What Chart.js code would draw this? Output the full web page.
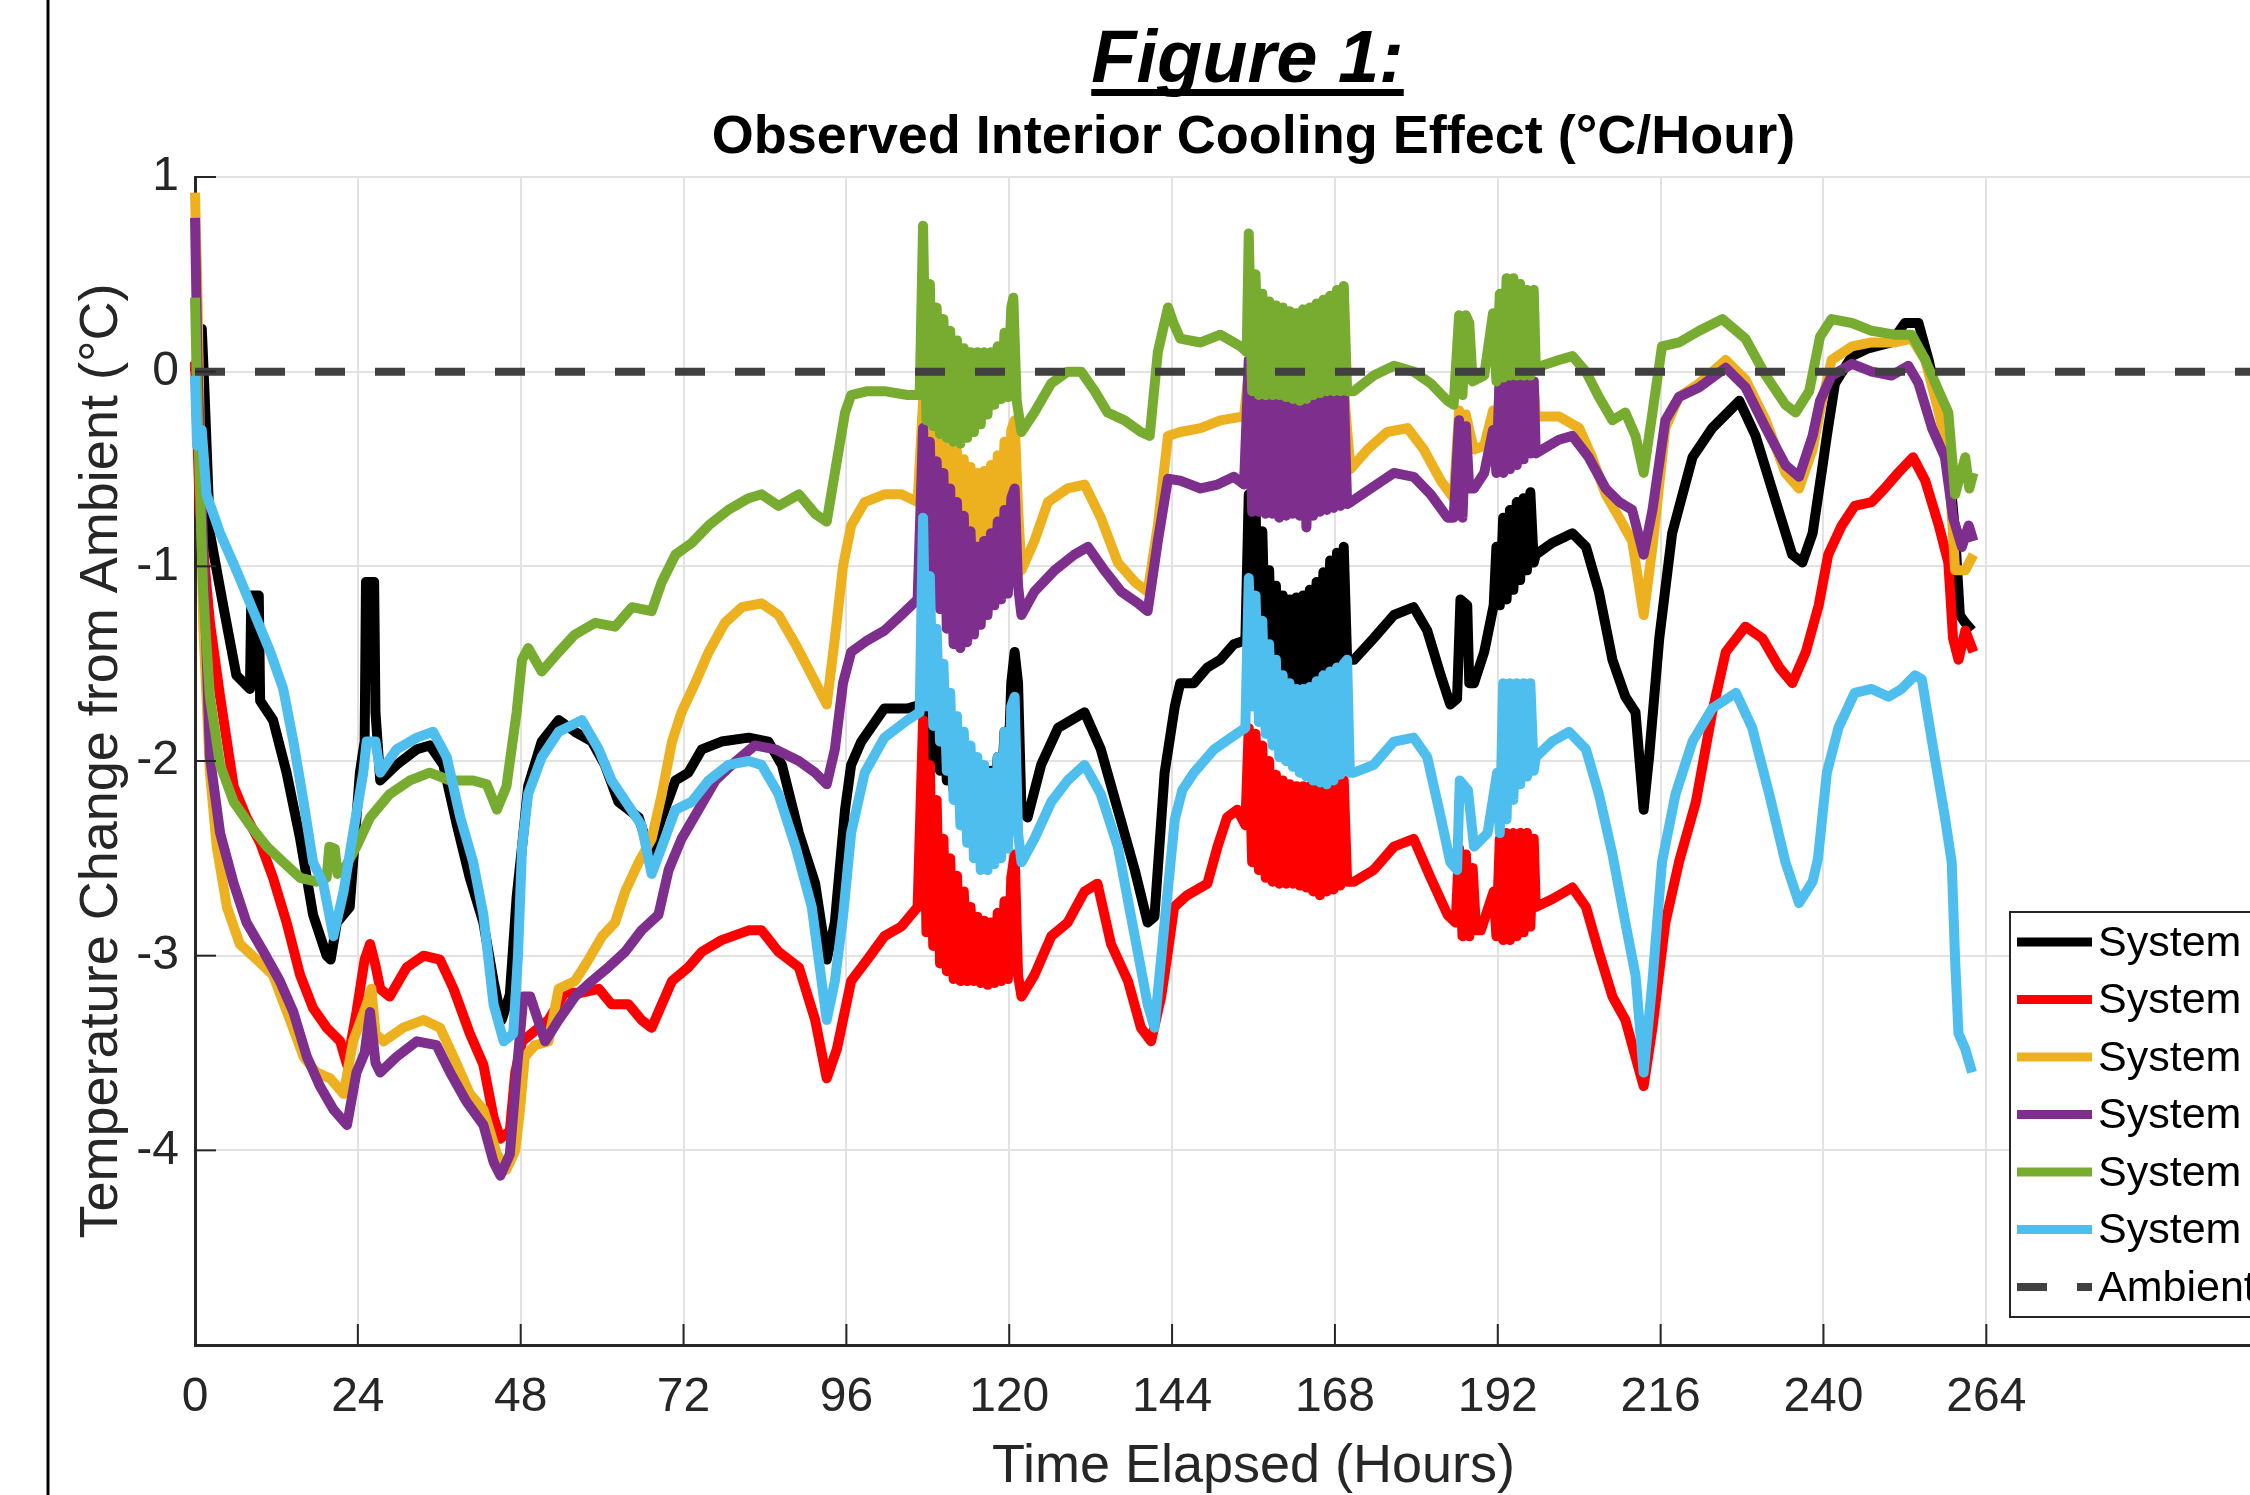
<!DOCTYPE html>
<html>
<head>
<meta charset="utf-8">
<title>Figure 1</title>
<script src="https://cdn.jsdelivr.net/npm/chart.js@4.4.0/dist/chart.umd.min.js"></script>
<style>
    html, body { margin: 0; padding: 0; background: #fff; overflow: hidden; width: 2250px; height: 1495px; }
    #wrap { position: absolute; left: 0; top: 0; width: 2340px; height: 1495px; }
</style>
</head>
<body>
<div id="wrap"><canvas id="coolingChart" width="2340" height="1495"></canvas></div>
<script>
// hours elapsed, temperature change from ambient (°C)
// the rapid swings around 108-121 h, 155-170 h and 186-197 h are kept as read, peak/trough by peak/trough
var system1 = [
    [0, 0.0], [1.0, 0.22], [1.4, -0.1], [2.2, -0.83], [4.2, -1.21], [6.1, -1.56], [8.1, -1.63], [8.3, -1.15], [9.4, -1.15],
    [9.6, -1.69], [11.5, -1.79], [13.5, -2.06], [15.5, -2.4], [17.4, -2.79], [19.4, -3.0], [20.0, -3.02], [20.9, -2.83],
    [22.8, -2.75], [24.3, -2.06], [25.0, -1.9], [25.2, -1.08], [26.4, -1.08], [26.6, -1.75], [27.3, -2.1], [29.7, -2.02],
    [32.7, -1.94], [34.6, -1.92], [36.6, -2.02], [38.6, -2.33], [40.5, -2.6], [42.5, -2.83], [44, -3.13], [45.2, -3.33],
    [46.4, -3.2], [47.4, -2.7], [48.2, -2.44], [49.1, -2.13], [51.1, -1.9], [53.6, -1.79], [56, -1.85], [58.5, -1.9],
    [60.4, -2.02], [62.4, -2.21], [65.4, -2.29], [67.1, -2.48], [68.8, -2.29], [70.8, -2.1], [72.7, -2.06], [74.7, -1.94],
    [77.6, -1.9], [81.6, -1.88], [84.5, -1.9], [86.5, -2.02], [89, -2.37], [91.4, -2.63], [93.1, -3.02], [94.3, -2.83],
    [95.8, -2.25], [96.7, -2.02], [98.2, -1.9], [101.6, -1.73], [105, -1.73], [107, -1.71],
    [107.3, -1.71], [107.8, -1.95], [108.3, -1.72], [108.8, -2.0], [109.3, -1.74], [109.8, -2.05], [110.3, -1.76],
    [110.8, -2.1], [111.3, -1.8], [111.8, -2.15], [112.3, -1.86], [112.8, -2.2], [113.3, -1.93], [113.8, -2.27],
    [114.3, -2.0], [114.8, -2.33], [115.3, -2.05], [115.8, -2.33], [116.3, -2.1], [116.8, -2.33], [117.3, -2.05],
    [117.8, -2.3], [118.3, -1.98], [118.8, -2.2], [119.3, -1.85], [119.8, -2.1], [120.3, -1.6], [120.8, -1.44],
    [121.3, -1.6], [121.8, -2.25],
    [122.7, -2.29], [124.7, -2.02], [127.2, -1.83], [131.1, -1.75], [133.5, -1.94], [136, -2.25], [138.5, -2.56],
    [140.4, -2.83], [141.4, -2.8], [142.9, -2.06], [144.4, -1.72], [145.2, -1.6], [147.2, -1.6], [149.2, -1.52],
    [151.1, -1.48], [153.1, -1.4], [154.8, -1.38],
    [155.3, -0.63], [155.8, -1.33], [156.3, -0.7], [156.8, -1.42], [157.3, -0.82], [157.8, -1.48], [158.3, -1.02],
    [158.8, -1.53], [159.3, -1.1], [159.8, -1.57], [160.3, -1.15], [160.8, -1.6], [161.3, -1.17], [161.8, -1.62],
    [162.3, -1.16], [162.8, -1.63], [163.3, -1.15], [163.8, -1.63], [164.3, -1.12], [164.8, -1.61], [165.3, -1.08],
    [165.8, -1.58], [166.3, -1.03], [166.8, -1.55], [167.3, -0.97], [167.8, -1.52], [168.3, -0.93], [168.8, -1.5],
    [169.3, -0.9], [169.8, -1.48],
    [170.8, -1.48], [173.7, -1.37], [176.7, -1.25], [179.6, -1.21], [181.6, -1.33], [183.6, -1.56],
    [185, -1.71], [186, -1.68], [186.5, -1.17], [187.5, -1.2], [187.8, -1.6], [188.5, -1.6], [190, -1.44], [191.4, -1.2],
    [191.8, -0.9], [192.3, -1.2], [192.8, -0.75], [193.3, -1.17], [193.8, -0.71], [194.3, -1.12], [194.8, -0.67],
    [195.3, -1.07], [195.8, -0.65], [196.3, -1.02], [196.8, -0.62], [197.3, -0.98],
    [197.6, -0.94], [200, -0.88], [203, -0.83], [205, -0.9], [206.9, -1.13], [208.9, -1.48], [210.8, -1.67], [212.3, -1.75],
    [213.5, -2.25], [214.3, -1.98], [215.8, -1.37], [217.7, -0.83], [220.7, -0.44], [223.6, -0.29], [227.6, -0.15],
    [230, -0.33], [233, -0.67], [235.4, -0.94], [236.9, -0.98], [238.4, -0.83], [239.8, -0.5], [240.5, -0.33],
    [241.7, -0.06], [244.2, 0.08], [246.6, 0.12], [250, 0.15], [252, 0.25], [254, 0.25], [255.5, 0.06], [257, -0.17],
    [258.4, -0.44], [259.4, -0.83], [260.1, -1.25], [260.9, -1.29], [261.9, -1.33]
];
var system2 = [
    [0, 0.05], [0.7, -0.71], [2.2, -1.29], [3.7, -1.67], [5.7, -2.13], [7.6, -2.29], [9.6, -2.42], [11.5, -2.6],
    [13.5, -2.83], [15.5, -3.1], [17.4, -3.27], [19.4, -3.37], [21.4, -3.44], [22.4, -3.56], [23.8, -3.29], [25.0, -3.02],
    [25.8, -2.94], [26.6, -3.05], [27.3, -3.17], [28.7, -3.21], [31.2, -3.06], [33.7, -3.0], [36.1, -3.02], [38.1, -3.17],
    [40.5, -3.4], [42.5, -3.56], [44, -3.83], [45, -3.94], [46.4, -3.9], [47.2, -3.6], [48.2, -3.44], [49.6, -3.4],
    [52.1, -3.33], [54.5, -3.19], [57, -3.19], [59.5, -3.17], [61.4, -3.25], [63.9, -3.25], [65.8, -3.33], [67.3, -3.37],
    [68.8, -3.25], [70.3, -3.13], [72.7, -3.06], [74.7, -2.98], [77.6, -2.92], [81.6, -2.87], [83.5, -2.87], [86, -2.98],
    [89, -3.06], [91.4, -3.33], [93.1, -3.63], [94.6, -3.48], [96.7, -3.13], [99.1, -3.02], [101.6, -2.9], [104.1, -2.85],
    [106.5, -2.75],
    [107.3, -1.79], [107.8, -2.88], [108.3, -2.02], [108.8, -2.95], [109.3, -2.2], [109.8, -3.04], [110.3, -2.4],
    [110.8, -3.08], [111.3, -2.5], [111.8, -3.12], [112.3, -2.59], [112.8, -3.13], [113.3, -2.67], [113.8, -3.13],
    [114.3, -2.75], [114.8, -3.13], [115.3, -2.8], [115.8, -3.14], [116.3, -2.82], [116.8, -3.15], [117.3, -2.83],
    [117.8, -3.14], [118.3, -2.78], [118.8, -3.13], [119.3, -2.72], [119.8, -3.12], [120.3, -2.6], [120.8, -2.48],
    [121.3, -3.1],
    [121.8, -3.21], [123.7, -3.1], [126.2, -2.9], [128.6, -2.83], [131.1, -2.67], [133, -2.63],
    [135, -2.94], [137.5, -3.13], [139.4, -3.37], [140.9, -3.44], [142.4, -3.21], [143.3, -3.0], [144.3, -2.75],
    [146.2, -2.69], [149.2, -2.63], [150.7, -2.44], [152.1, -2.29], [153.6, -2.25], [154.8, -2.33],
    [155.3, -1.83], [155.8, -2.52], [156.3, -1.86], [156.8, -2.56], [157.3, -1.92], [157.8, -2.6], [158.3, -2.0],
    [158.8, -2.62], [159.3, -2.07], [159.8, -2.63], [160.3, -2.1], [160.8, -2.63], [161.3, -2.12], [161.8, -2.63],
    [162.3, -2.13], [162.8, -2.64], [163.3, -2.13], [163.8, -2.65], [164.3, -2.13], [164.8, -2.67], [165.3, -2.13],
    [165.8, -2.69], [166.3, -2.12], [166.8, -2.67], [167.3, -2.12], [167.8, -2.66], [168.3, -2.11], [168.8, -2.64],
    [169.3, -2.1], [169.8, -2.62],
    [170.8, -2.62], [173.7, -2.56], [176.7, -2.44], [179.6, -2.4], [182.1, -2.6], [184.6, -2.79], [185.8, -2.83],
    [186.3, -2.45], [186.8, -2.9], [187.3, -2.48], [187.8, -2.9], [188.3, -2.55], [188.8, -2.87],
    [189.5, -2.87], [191.4, -2.67],
    [191.8, -2.9], [192.3, -2.4], [192.8, -2.92], [193.3, -2.37], [193.8, -2.92], [194.3, -2.37], [194.8, -2.9],
    [195.3, -2.37], [195.8, -2.88], [196.3, -2.37], [196.8, -2.85], [197.3, -2.4],
    [197.6, -2.75], [200, -2.71], [203, -2.65], [205, -2.75], [206.9, -2.98], [208.9, -3.21], [210.8, -3.33], [212.3, -3.52],
    [213.5, -3.67], [214.8, -3.37], [216.7, -2.83], [218.7, -2.52], [221.2, -2.21], [223.6, -1.75], [225.6, -1.44],
    [228.5, -1.31], [231, -1.37], [233.5, -1.52], [235.4, -1.6], [237.4, -1.44], [239.3, -1.2], [240.7, -0.94],
    [242.7, -0.79], [244.6, -0.69], [247.1, -0.67], [249, -0.6], [251, -0.52], [253.2, -0.44], [255, -0.56], [257, -0.79],
    [258.4, -0.98], [259.1, -1.37], [259.9, -1.48], [260.9, -1.33], [262.1, -1.44]
];
var system3 = [
    [0, 0.92], [0.3, 0.5], [1.2, -1.29], [2.2, -2.06], [3.2, -2.44], [4.7, -2.75], [6.6, -2.94], [9.1, -3.02], [11.5, -3.1],
    [14, -3.33], [16, -3.52], [17.9, -3.6], [19.9, -3.63], [21.9, -3.71], [23.3, -3.44], [25.3, -3.25], [26, -3.17],
    [26.6, -3.4], [27.8, -3.44], [30.7, -3.37], [33.7, -3.33], [36.1, -3.37], [38.1, -3.52], [40.5, -3.71], [42.5, -3.79],
    [44.5, -4.02], [45.9, -4.1], [47.2, -4.0], [47.9, -3.79], [48.6, -3.52], [50.1, -3.46], [52.1, -3.44], [53.6, -3.17],
    [56, -3.13], [58, -3.02], [60, -2.9], [61.9, -2.83], [63.4, -2.67], [65.4, -2.52], [67.3, -2.4], [68.8, -2.17],
    [70.3, -1.9], [71.7, -1.75], [73.7, -1.6], [75.7, -1.44], [78.1, -1.29], [80.6, -1.21], [83.5, -1.19], [86, -1.25],
    [88.5, -1.4], [90.9, -1.56], [93.1, -1.71], [94.3, -1.37], [95.5, -1.0], [96.7, -0.79], [98.7, -0.67], [101.6, -0.63],
    [104.1, -0.63], [106.5, -0.67],
    [107.3, -0.15], [107.8, -0.5], [108.3, -0.22], [108.8, -0.6], [109.3, -0.28], [109.8, -0.72], [110.3, -0.32],
    [110.8, -0.8], [111.3, -0.37], [111.8, -0.86], [112.3, -0.41], [112.8, -0.92], [113.3, -0.45], [113.8, -0.97],
    [114.3, -0.49], [114.8, -1.0], [115.3, -0.52], [115.8, -1.02], [116.3, -0.51], [116.8, -0.98], [117.3, -0.48],
    [117.8, -0.93], [118.3, -0.43], [118.8, -0.85], [119.3, -0.36], [119.8, -0.76], [120.3, -0.3], [120.8, -0.25],
    [121.3, -0.7],
    [121.8, -1.02], [123.7, -0.87], [125.7, -0.67], [128.6, -0.6], [131.1, -0.58], [133.5, -0.75], [136, -0.98],
    [138.5, -1.08], [140.4, -1.13], [141.9, -0.79], [143.4, -0.33], [145.2, -0.31], [148.2, -0.29], [151.1, -0.25],
    [154.6, -0.23],
    [155.3, 0.0], [155.8, -0.3], [156.3, -0.03], [156.8, -0.3], [157.3, -0.05], [157.8, -0.3], [158.3, -0.06],
    [158.8, -0.3], [159.3, -0.07], [159.8, -0.3], [160.3, -0.07], [160.8, -0.3], [161.3, -0.06], [161.8, -0.3],
    [162.3, -0.08], [162.8, -0.3], [163.3, -0.1], [163.8, -0.3], [164.3, -0.09], [164.8, -0.3], [165.3, -0.08],
    [165.8, -0.3], [166.3, -0.08], [166.8, -0.3], [167.3, -0.08], [167.8, -0.3], [168.3, -0.08], [168.8, -0.3],
    [169.3, -0.08], [169.8, -0.3],
    [170.3, -0.5], [172.8, -0.4], [175.7, -0.31], [178.7, -0.29], [181.1, -0.4], [183.6, -0.56], [185.5, -0.65],
    [186.3, -0.2], [186.8, -0.6], [187.3, -0.22], [187.8, -0.3], [188.5, -0.4], [190, -0.38],
    [191.3, -0.2], [191.8, -0.45], [192.3, -0.05], [192.8, -0.45], [193.3, -0.03], [193.8, -0.45], [194.3, -0.03],
    [194.8, -0.45], [195.3, -0.03], [195.8, -0.42], [196.3, -0.05], [196.8, -0.4], [197.3, -0.05],
    [197.6, -0.23], [201, -0.23], [204, -0.29], [205.9, -0.44],
    [207.9, -0.63], [209.9, -0.75], [211.8, -0.87], [213.5, -1.25], [214.8, -0.9], [216.7, -0.29], [218.7, -0.13],
    [221.7, -0.06], [225.6, 0.06], [228.5, -0.04], [231.5, -0.25], [234.4, -0.52], [236.4, -0.6], [238.4, -0.4],
    [239.5, -0.2], [241.2, 0.06], [244.2, 0.13], [247.1, 0.15], [250.5, 0.15], [253, 0.17], [255, 0.06], [257, -0.21],
    [258.4, -0.44], [259.4, -1.02], [260.9, -1.02], [262.1, -0.94]
];
var system4 = [
    [0, 0.79], [0.4, 0.0], [1.2, -0.9], [2.2, -1.98], [3.7, -2.37], [5.7, -2.63], [7.6, -2.83], [10.1, -2.98],
    [12.5, -3.13], [14.5, -3.29], [16.5, -3.52], [18.4, -3.67], [20.4, -3.79], [22.4, -3.87], [23.8, -3.6], [25, -3.5],
    [25.8, -3.29], [26.6, -3.55], [27.3, -3.6], [29.7, -3.52], [32.7, -3.44], [35.6, -3.46], [37.6, -3.6], [40, -3.75],
    [42.5, -3.87], [44, -4.06], [45, -4.13], [46.4, -4.02], [47.4, -3.6], [48.4, -3.21], [49.4, -3.21], [51.6, -3.44],
    [53.6, -3.33], [56, -3.21], [58.5, -3.13], [60.9, -3.06], [63.4, -2.98], [65.8, -2.87], [68.3, -2.79], [69.8, -2.56],
    [71.7, -2.4], [74.2, -2.25], [76.7, -2.1], [79.1, -2.02], [82.5, -1.92], [85.5, -1.94], [89, -2.0], [91.4, -2.06],
    [93.1, -2.12], [94.3, -1.94], [95.5, -1.6], [96.7, -1.44], [99.1, -1.38], [101.6, -1.33], [104.1, -1.25], [106.5, -1.17],
    [107.3, -0.29], [107.8, -1.0], [108.3, -0.36], [108.8, -1.12], [109.3, -0.46], [109.8, -1.22], [110.3, -0.52],
    [110.8, -1.32], [111.3, -0.6], [111.8, -1.4], [112.3, -0.67], [112.8, -1.42], [113.3, -0.74], [113.8, -1.39],
    [114.3, -0.82], [114.8, -1.35], [115.3, -0.9], [115.8, -1.3], [116.3, -0.87], [116.8, -1.25], [117.3, -0.83],
    [117.8, -1.2], [118.3, -0.77], [118.8, -1.17], [119.3, -0.71], [119.8, -1.14], [120.3, -0.65], [120.8, -0.6],
    [121.3, -1.1],
    [121.8, -1.25], [123.7, -1.13], [126.7, -1.02], [129.6, -0.94], [131.6, -0.9], [134, -1.02], [136.5, -1.13],
    [139, -1.19], [140.4, -1.23], [141.9, -0.87], [143.4, -0.55], [145.2, -0.56], [148.2, -0.6], [150.7, -0.58],
    [153.1, -0.54], [154.6, -0.58],
    [155.3, 0.06], [155.8, -0.72], [156.3, -0.05], [156.8, -0.72], [157.3, -0.1], [157.8, -0.73], [158.3, -0.1],
    [158.8, -0.73], [159.3, -0.1], [159.8, -0.75], [160.3, -0.09], [160.8, -0.74], [161.3, -0.08], [161.8, -0.73],
    [162.3, -0.09], [162.8, -0.74], [163.3, -0.1], [163.8, -0.8], [164.3, -0.1], [164.8, -0.74], [165.3, -0.1],
    [165.8, -0.72], [166.3, -0.1], [166.8, -0.71], [167.3, -0.1], [167.8, -0.7], [168.3, -0.09], [168.8, -0.69],
    [169.3, -0.08], [169.8, -0.68],
    [170.3, -0.67], [173.3, -0.6], [176.7, -0.52], [179.6, -0.54], [182.1, -0.63], [184.6, -0.75], [185.5, -0.75],
    [186.3, -0.25], [186.8, -0.75], [187.3, -0.28], [187.8, -0.6], [188.5, -0.6], [190, -0.52],
    [191.3, -0.3], [191.8, -0.52], [192.3, 0.0], [192.8, -0.52], [193.3, 0.02], [193.8, -0.5], [194.3, 0.02],
    [194.8, -0.48], [195.3, 0.0], [195.8, -0.45], [196.3, -0.02], [196.8, -0.42], [197.3, -0.05],
    [197.6, -0.42], [201, -0.35], [203, -0.33], [205.4, -0.44],
    [207.9, -0.6], [209.9, -0.67], [211.8, -0.71], [213.5, -0.94], [214.8, -0.71], [216.7, -0.25], [218.7, -0.13],
    [221.7, -0.08], [225.6, 0.02], [228.5, -0.08], [231.5, -0.29], [234.4, -0.48], [236.4, -0.54], [238.4, -0.33],
    [239.5, -0.15], [241.2, -0.02], [244.2, 0.04], [247.1, 0.0], [250, -0.02], [252.5, 0.03], [254, -0.06], [256, -0.29],
    [257.9, -0.44], [259.1, -0.75], [260.4, -0.9], [261.4, -0.79], [262.1, -0.87]
];
var system5 = [
    [0, 0.38], [0.3, -0.1], [1.2, -1.13], [2.2, -1.67], [3.7, -2.02], [5.7, -2.21], [8.1, -2.33], [10.6, -2.44], [13, -2.52],
    [15.5, -2.6], [17.9, -2.62], [19.4, -2.6], [19.8, -2.44], [20.6, -2.45], [21, -2.58], [21.9, -2.56], [23.8, -2.44],
    [25.8, -2.29], [28.7, -2.17], [31.7, -2.1], [34.6, -2.06], [37.6, -2.1], [41, -2.1], [43, -2.12], [44.5, -2.25],
    [45.9, -2.13], [47.4, -1.75], [48.2, -1.48], [49.1, -1.42], [51.1, -1.54], [53.6, -1.44], [56, -1.35], [59, -1.29],
    [61.9, -1.31], [64.4, -1.21], [67.3, -1.23], [68.8, -1.08], [70.8, -0.94], [73.2, -0.88], [75.7, -0.79], [78.6, -0.71],
    [81.6, -0.65], [83.5, -0.63], [86, -0.69], [89, -0.63], [91.4, -0.73], [93.1, -0.77], [94.3, -0.52], [95.8, -0.21],
    [96.7, -0.12], [99.1, -0.1], [101.6, -0.1], [105, -0.12], [106.8, -0.12],
    [107.3, 0.75], [107.8, -0.25], [108.3, 0.45], [108.8, -0.28], [109.3, 0.33], [109.8, -0.32], [110.3, 0.27],
    [110.8, -0.34], [111.3, 0.21], [111.8, -0.36], [112.3, 0.16], [112.8, -0.37], [113.3, 0.12], [113.8, -0.34],
    [114.3, 0.1], [114.8, -0.31], [115.3, 0.1], [115.8, -0.27], [116.3, 0.1], [116.8, -0.22], [117.3, 0.1],
    [117.8, -0.17], [118.3, 0.13], [118.8, -0.14], [119.3, 0.2], [119.8, -0.13], [120.3, 0.33], [120.6, 0.38],
    [121.1, -0.15],
    [121.8, -0.31], [123.7, -0.21], [126.2, -0.06], [128.6, 0.0],
    [130.6, 0.0], [132.6, -0.1], [134.5, -0.21], [137, -0.25], [139.4, -0.31], [140.7, -0.33], [141.9, 0.1], [143.4, 0.33],
    [144.2, 0.25], [145.2, 0.17], [148.2, 0.15], [151.1, 0.19], [154.1, 0.13], [155, 0.1],
    [155.3, 0.71], [155.8, -0.1], [156.3, 0.5], [156.8, -0.12], [157.3, 0.4], [157.8, -0.12], [158.3, 0.36],
    [158.8, -0.12], [159.3, 0.34], [159.8, -0.12], [160.3, 0.33], [160.8, -0.13], [161.3, 0.31], [161.8, -0.14],
    [162.3, 0.3], [162.8, -0.15], [163.3, 0.32], [163.8, -0.14], [164.3, 0.33], [164.8, -0.12], [165.3, 0.35],
    [165.8, -0.11], [166.3, 0.37], [166.8, -0.1], [167.3, 0.39], [167.8, -0.1], [168.3, 0.42], [168.8, -0.1],
    [169.3, 0.44], [169.8, -0.1],
    [170.8, -0.1], [173.7, -0.02], [176.7, 0.03], [179.6, 0.0], [182.1, -0.06], [184.6, -0.15], [185.5, -0.17],
    [186.3, 0.29], [186.8, -0.12], [187.3, 0.29], [187.8, 0.25], [188.3, -0.05], [190, -0.02],
    [191.3, 0.3], [191.8, -0.05], [192.3, 0.4], [192.8, -0.03], [193.3, 0.48], [193.8, -0.02], [194.3, 0.48],
    [194.8, -0.02], [195.3, 0.45], [195.8, -0.02], [196.3, 0.42], [196.8, -0.02], [197.3, 0.42],
    [197.6, 0.02], [201, 0.06], [203, 0.08], [205, 0.0], [206.9, -0.13], [208.9, -0.25], [210.8, -0.21], [212.3, -0.33],
    [213.5, -0.52], [214.8, -0.21], [216.2, 0.13], [218.7, 0.15], [221.7, 0.21], [225.1, 0.27], [228.5, 0.17],
    [231.5, -0.02], [234.4, -0.17], [235.9, -0.21], [237.9, -0.1], [239.5, 0.18], [241.2, 0.27], [244.2, 0.25],
    [247.1, 0.21], [250.5, 0.19], [253, 0.19], [255, 0.06], [257, -0.1], [258.4, -0.21], [259.4, -0.63], [260.9, -0.44],
    [261.5, -0.6], [262.1, -0.52]
];
var system6 = [
    [0, -0.02], [0.3, -0.38], [1.0, -0.3], [1.7, -0.63], [3.7, -0.83], [6.1, -1.02], [8.6, -1.23], [11.1, -1.44],
    [13, -1.63], [14.5, -1.9], [16, -2.21], [17.4, -2.52], [18.9, -2.63], [20.4, -2.9], [21.9, -2.67], [23.3, -2.37],
    [24.8, -2.06], [25.3, -1.9], [26.6, -1.9], [27.3, -2.06], [29.7, -1.94], [32.7, -1.88], [35.1, -1.85], [37.1, -1.98],
    [39.1, -2.29], [41, -2.52], [42.5, -2.79], [44, -3.25], [45.5, -3.44], [46.9, -3.4], [47.6, -3.0], [48.2, -2.44],
    [49.1, -2.17], [51.1, -1.98], [53.6, -1.85], [57, -1.79], [59.5, -1.94], [61.4, -2.1], [63.9, -2.23], [65.8, -2.33],
    [67.3, -2.58], [68.8, -2.44], [70.8, -2.25], [73.2, -2.21], [75.7, -2.1], [78.6, -2.02], [81.6, -2.0], [83.5, -2.02],
    [86, -2.17], [88.5, -2.44], [90.9, -2.75], [93.1, -3.33], [94.3, -3.13], [95.5, -2.8], [96.7, -2.37], [98.7, -2.06],
    [101.6, -1.88], [105, -1.79], [106.8, -1.75],
    [107.3, -0.75], [107.8, -1.72], [108.3, -1.05], [108.8, -1.82], [109.3, -1.32], [109.8, -1.9], [110.3, -1.5],
    [110.8, -2.05], [111.3, -1.65], [111.8, -2.2], [112.3, -1.77], [112.8, -2.33], [113.3, -1.85], [113.8, -2.42],
    [114.3, -1.92], [114.8, -2.5], [115.3, -1.98], [115.8, -2.56], [116.3, -2.02], [116.8, -2.56], [117.3, -2.06],
    [117.8, -2.53], [118.3, -1.98], [118.8, -2.5], [119.3, -1.85], [119.8, -2.45], [120.3, -1.72], [120.8, -1.67],
    [121.3, -2.37],
    [121.8, -2.52], [123.7, -2.4], [126.2, -2.21], [128.6, -2.1],
    [131.1, -2.02], [133.5, -2.17], [136, -2.44], [138.5, -2.9], [140.4, -3.25], [141.4, -3.37], [142.9, -2.83],
    [144.4, -2.3], [145.5, -2.15], [147.2, -2.06], [150.2, -1.94], [153.1, -1.87], [154.8, -1.83],
    [155.3, -1.06], [155.8, -1.72], [156.3, -1.15], [156.8, -1.8], [157.3, -1.28], [157.8, -1.86], [158.3, -1.4],
    [158.8, -1.92], [159.3, -1.48], [159.8, -1.98], [160.3, -1.56], [160.8, -2.0], [161.3, -1.6], [161.8, -2.03],
    [162.3, -1.63], [162.8, -2.06], [163.3, -1.63], [163.8, -2.08], [164.3, -1.62], [164.8, -2.1], [165.3, -1.59],
    [165.8, -2.11], [166.3, -1.56], [166.8, -2.12], [167.3, -1.54], [167.8, -2.1], [168.3, -1.52], [168.8, -2.07],
    [169.3, -1.5], [169.8, -1.48], [170.2, -2.06],
    [170.8, -2.06], [173.7, -2.02], [176.7, -1.9], [179.6, -1.88],
    [181.6, -1.98], [183.6, -2.29], [185, -2.52], [186, -2.56], [186.4, -2.1], [187.6, -2.15], [188.5, -2.44],
    [190.5, -2.37], [191.9, -2.06],
    [192.3, -2.37], [192.8, -1.6], [193.3, -2.3], [193.8, -1.6], [194.3, -2.2], [194.8, -1.6], [195.3, -2.12],
    [195.8, -1.6], [196.3, -2.08], [196.8, -1.6], [197.3, -2.05],
    [197.6, -1.98], [200, -1.9], [202.5, -1.85], [205, -1.94],
    [206.9, -2.17], [208.9, -2.48], [210.8, -2.83], [212.3, -3.1], [213.5, -3.6], [214.8, -3.13], [216.2, -2.52],
    [218.2, -2.17], [220.7, -1.9], [223.6, -1.73], [227.1, -1.65], [229.5, -1.83], [232, -2.17], [234.4, -2.52],
    [236.4, -2.73], [238.4, -2.62], [239.2, -2.5], [240.5, -2.06], [242.2, -1.83], [244.6, -1.65], [247.1, -1.63],
    [249.6, -1.67], [251.5, -1.63], [253.5, -1.56], [254.5, -1.58], [256, -1.9], [257.9, -2.29], [258.9, -2.52],
    [259.4, -3.02], [259.9, -3.4], [260.9, -3.48], [261.9, -3.6]
];
var ambient = [[0, 0], [312, 0]];

var xTicks = [0, 24, 48, 72, 96, 120, 144, 168, 192, 216, 240, 264];
var yTicks = [-4, -3, -2, -1, 0, 1];
var legendLabels = ['System 1', 'System 2', 'System 3', 'System 4', 'System 5', 'System 6', 'Ambient'];
var seriesColors = ['#000000', '#ff0000', '#edb120', '#7e2f8e', '#77ac30', '#4dbeee', '#404040'];

var FONT = "'Liberation Sans', Arial, Helvetica, sans-serif";
var AXIS_COLOR = '#262626';

function toPoints(pairs) {
    return pairs.map(function(p) { return { x: p[0], y: p[1] }; });
}

function seriesDataset(pairs, idx, order) {
    return {
        label: legendLabels[idx],
        data: toPoints(pairs),
        borderColor: seriesColors[idx],
        backgroundColor: seriesColors[idx],
        borderWidth: 10,
        borderJoinStyle: 'round',
        pointRadius: 0,
        tension: 0,
        clip: 8,
        order: order
    };
}

// titles, axis titles, inward tick marks, legend, page rule
var decorations = {
    id: 'decorations',
    beforeDraw: function(chart) {
        var ctx = chart.ctx;
        ctx.save();
        ctx.fillStyle = '#ffffff';
        ctx.fillRect(0, 0, chart.width, chart.height);
        ctx.restore();
    },
    afterDraw: function(chart) {
        var ctx = chart.ctx;
        var area = chart.chartArea;
        var xs = chart.scales.x, ys = chart.scales.y;
        ctx.save();

        // page rule on the left
        ctx.strokeStyle = '#000';
        ctx.lineWidth = 3;
        ctx.beginPath();
        ctx.moveTo(48, 0);
        ctx.lineTo(48, chart.height);
        ctx.stroke();

        // tick marks pointing into the plot
        ctx.strokeStyle = AXIS_COLOR;
        ctx.lineWidth = 2;
        xTicks.forEach(function(v) {
            var px = xs.getPixelForValue(v);
            ctx.beginPath();
            ctx.moveTo(px, area.bottom);
            ctx.lineTo(px, area.bottom - 21);
            ctx.stroke();
        });
        yTicks.forEach(function(v) {
            var py = ys.getPixelForValue(v);
            ctx.beginPath();
            ctx.moveTo(area.left, py);
            ctx.lineTo(area.left + 21, py);
            ctx.stroke();
        });

        // titles
        var cx = (area.left + area.right) / 2;
        ctx.fillStyle = '#000';
        ctx.textAlign = 'center';
        ctx.textBaseline = 'alphabetic';
        ctx.font = 'italic bold 74px ' + FONT;
        var t1 = 'Figure 1:';
        var w1 = ctx.measureText(t1).width;
        ctx.fillText(t1, cx - 6, 82);
        ctx.fillRect(cx - 6 - w1 / 2, 89, w1, 7);

        ctx.font = 'bold 54px ' + FONT;
        ctx.fillText('Observed Interior Cooling Effect (°C/Hour)', cx, 153);

        ctx.fillStyle = AXIS_COLOR;
        ctx.font = '54px ' + FONT;
        ctx.fillText('Time Elapsed (Hours)', cx, 1482);

        ctx.save();
        ctx.translate(117, (area.top + area.bottom) / 2);
        ctx.rotate(-Math.PI / 2);
        ctx.fillText('Temperature Change from Ambient (°C)', 0, 0);
        ctx.restore();

        // legend box (runs off the right edge like the original)
        var lx = 2010, ly = 912, lw = 300, lh = 405;
        ctx.fillStyle = '#ffffff';
        ctx.fillRect(lx, ly, lw, lh);
        ctx.strokeStyle = AXIS_COLOR;
        ctx.lineWidth = 2;
        ctx.strokeRect(lx, ly, lw, lh);
        ctx.font = '43px ' + FONT;
        ctx.textAlign = 'left';
        ctx.textBaseline = 'middle';
        legendLabels.forEach(function(label, i) {
            var ry = 942 + i * 57.5;
            ctx.strokeStyle = seriesColors[i];
            if (label === 'Ambient') {
                ctx.lineWidth = 8;
                ctx.setLineDash([30, 30]);
            } else {
                ctx.lineWidth = 9;
                ctx.setLineDash([]);
            }
            ctx.beginPath();
            ctx.moveTo(2017, ry);
            ctx.lineTo(2092, ry);
            ctx.stroke();
            ctx.setLineDash([]);
            ctx.fillStyle = '#000';
            ctx.fillText(label, 2098, ry + 2);
        });
        ctx.restore();
    }
};

var ctx = document.getElementById('coolingChart').getContext('2d');
var coolingChart = new Chart(ctx, {
    type: 'line',
    data: {
        datasets: [
            seriesDataset(system1, 0, 6),
            seriesDataset(system2, 1, 5),
            seriesDataset(system3, 2, 4),
            seriesDataset(system4, 3, 3),
            seriesDataset(system5, 4, 2),
            seriesDataset(system6, 5, 1),
            {
                label: legendLabels[6],
                data: toPoints(ambient),
                borderColor: seriesColors[6],
                borderWidth: 8,
                borderDash: [30, 30],
                pointRadius: 0,
                order: 0
            }
        ]
    },
    options: {
        responsive: false,
        animation: false,
        devicePixelRatio: 1,
        layout: { padding: { top: 177, right: 28, left: 0, bottom: 0 } },
        plugins: {
            legend: { display: false },
            title: { display: false },
            tooltip: { enabled: false }
        },
        scales: {
            x: {
                type: 'linear',
                min: 0,
                max: 312,
                afterBuildTicks: function(scale) {
                    scale.ticks = xTicks.map(function(v) { return { value: v }; });
                },
                afterFit: function(scale) { scale.height = 150; },
                grid: { color: '#e2e2e2', lineWidth: 2, drawTicks: false },
                border: { color: AXIS_COLOR, width: 3 },
                ticks: {
                    color: AXIS_COLOR,
                    font: { family: FONT, size: 48 },
                    padding: 24,
                    maxRotation: 0,
                    autoSkip: false,
                    callback: function(v) { return String(v); }
                }
            },
            y: {
                type: 'linear',
                min: -5,
                max: 1,
                afterBuildTicks: function(scale) {
                    scale.ticks = yTicks.map(function(v) { return { value: v }; });
                },
                afterFit: function(scale) { scale.width = 195; },
                grid: { color: '#e2e2e2', lineWidth: 2, drawTicks: false },
                border: { color: AXIS_COLOR, width: 3 },
                ticks: {
                    color: AXIS_COLOR,
                    font: { family: FONT, size: 48 },
                    padding: 16,
                    autoSkip: false,
                    callback: function(v) { return String(v); }
                }
            }
        }
    },
    plugins: [decorations]
});
</script>
</body>
</html>
